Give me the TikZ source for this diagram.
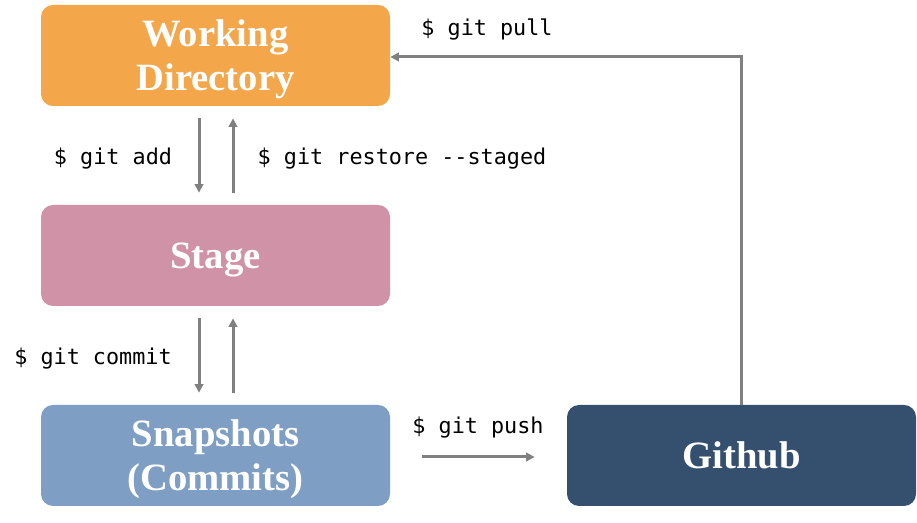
\documentclass[tikz,border=0pt]{standalone}
\usepackage{fontspec}
\setmainfont{Liberation Serif}
\newfontfamily\codefont{DejaVu Sans Mono}
\usetikzlibrary{arrows.meta,calc}
\definecolor{wdorange}{HTML}{F3A64A}
\definecolor{stagepink}{HTML}{D092A7}
\definecolor{snapblue}{HTML}{7F9EC3}
\definecolor{hubnavy}{HTML}{35506E}
\definecolor{arrowgray}{HTML}{808080}
\tikzset{
	area/.style={rounded corners=0.24cm, minimum width=6.98cm, minimum height=2.02cm,
		text=white, align=center, font=\fontsize{22}{25}\selectfont\bfseries, inner sep=0pt,
		text depth=0pt},
	cmd/.style={font=\codefont\fontsize{12.4}{14}\selectfont, inner sep=0pt},
	flow/.style={draw=arrowgray, line width=0.06cm, -{Triangle[length=0.17cm,width=0.17cm]}}
}

\begin{document}
\begin{tikzpicture}
			%%%%% START %%%%%
			\useasboundingbox (0, 0) rectangle (18.34, 10.46);
			
			\node[area, fill=wdorange] (wd) at (4.31, 9.35) {Working\\Directory};
			\node[area, fill=stagepink] (stage) at (4.31, 5.35) {Stage};
			\node[area, fill=snapblue] (snap) at (4.31, 1.35) {Snapshots\\(Commits)};
			\node[area, fill=hubnavy] (hub) at (14.83, 1.35) {Github};
			
			\node[cmd] (add) at (2.26, 7.29) {\$ git add};
			\node[cmd] (restore) at (8.04, 7.29) {\$ git restore --staged};
			\node[cmd] (commit) at (1.86, 3.29) {\$ git commit};
			\node[cmd] (push) at (9.56, 1.91) {\$ git push};
			\node[cmd] (pull) at (9.74, 9.87) {\$ git pull};
			
			\draw[flow] ([xshift=-0.33cm, yshift=-0.24cm]wd.south) -- ([xshift=-0.33cm, yshift=0.24cm]stage.north);
			\draw[flow] ([xshift=0.35cm, yshift=0.24cm]stage.north) -- ([xshift=0.35cm, yshift=-0.24cm]wd.south);
			
			\draw[flow] ([xshift=-0.33cm, yshift=-0.24cm]stage.south) -- ([xshift=-0.33cm, yshift=0.24cm]snap.north);
			\draw[flow] ([xshift=0.35cm, yshift=0.24cm]snap.north) -- ([xshift=0.35cm, yshift=-0.24cm]stage.south);
			
			\draw[flow] ([xshift=0.64cm, yshift=-0.03cm]snap.east) -- ([xshift=-0.64cm, yshift=-0.03cm]hub.west);
			
			\draw[flow] (hub.north) |- ([yshift=-0.03cm]wd.east);
			
			%%%%% END %%%%%
		\end{tikzpicture}
\end{document}
